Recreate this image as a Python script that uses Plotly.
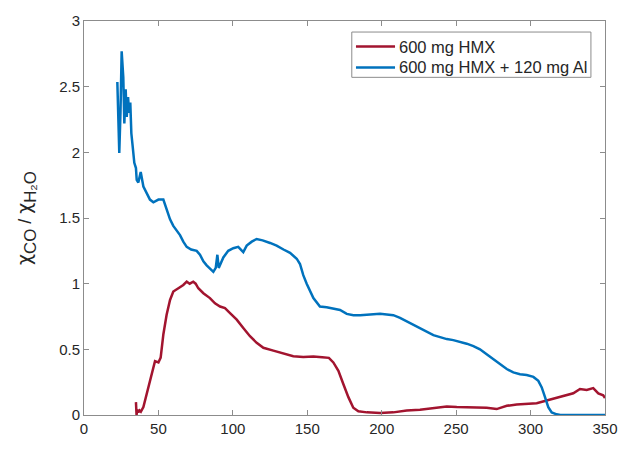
import plotly.graph_objects as go

# 600 mg HMX (red)
hmx_x = [34.9, 35.3, 35.8, 36.5, 37.3, 38.2, 39.9, 41.0, 43.2, 45.5, 47.7, 50.0, 51.5,
         53.3, 55.5, 57.8, 60.0, 63.4, 66.7, 69.0, 71.0, 73.4, 75.0, 76.8, 80.2, 84.6,
         88.0, 91.4, 94.7, 98.1, 102.6, 107.0, 111.5, 116.0, 120.5, 127.2, 133.9, 140.6,
         147.3, 154.1, 160.0, 164.5, 167.5, 170.9, 174.2, 177.6, 180.9, 184.3, 190.0,
         198.9, 207.8, 216.8, 225.7, 234.7, 243.7, 250.4, 257.1, 263.8, 270.5, 277.2,
         284.0, 290.7, 297.4, 304.1, 310.8, 317.5, 324.2, 328.7, 333.2, 337.7, 342.1,
         345.5, 348.8, 350.0]
hmx_y = [0.098, 0.0, 0.04, 0.02, 0.035, 0.025, 0.06, 0.11, 0.21, 0.31, 0.41, 0.40, 0.437,
         0.613, 0.763, 0.876, 0.94, 0.965, 0.99, 1.015, 1.0, 1.015, 1.0, 0.965, 0.927, 0.89,
         0.85, 0.826, 0.814, 0.776, 0.726, 0.663, 0.60, 0.55, 0.512, 0.49, 0.467, 0.447,
         0.442, 0.445, 0.44, 0.435, 0.40, 0.337, 0.236, 0.136, 0.055, 0.028, 0.02,
         0.015, 0.02, 0.035, 0.04, 0.055, 0.065, 0.06, 0.06, 0.055, 0.055, 0.045,
         0.07, 0.08, 0.085, 0.09, 0.11, 0.13, 0.148, 0.165, 0.198, 0.19, 0.205,
         0.165, 0.15, 0.13]

# 600 mg HMX + 120 mg Al (blue)
al_x = [22.4, 22.8, 23.7, 24.5, 25.3, 26.4, 27.1, 28.0, 28.7, 29.6, 30.3, 31.1, 31.8,
        32.7, 33.8, 34.9, 35.4, 36.5, 37.2, 38.1, 39.9, 42.1, 44.3, 46.6, 50.0, 53.3,
        55.5, 57.8, 60.0, 62.2, 64.5, 66.7, 69.0, 72.0, 75.7, 77.9, 80.2, 82.4, 84.6,
        86.9, 88.5, 89.6, 90.5, 93.6, 96.9, 100.3, 103.6, 107.0, 109.3, 112.7, 116.0,
        120.0, 125.0, 129.4, 134.0, 138.4, 142.9, 145.1, 147.3, 149.6, 154.1, 158.5,
        163.0, 167.5, 172.0, 176.5, 181.0, 185.5, 190.0, 194.5, 198.9, 203.4, 207.8,
        212.3, 216.8, 221.2, 225.7, 230.2, 234.7, 239.2, 243.7, 248.1, 252.6, 257.1,
        261.6, 266.0, 270.5, 275.0, 279.5, 284.0, 288.4, 292.9, 297.4, 301.9, 305.2,
        307.5, 309.7, 311.9, 314.2, 317.5, 320.0, 330.0, 340.0, 350.0]
al_y = [2.535, 2.27, 1.995, 2.3, 2.77, 2.57, 2.22, 2.48, 2.27, 2.42, 2.30, 2.38, 2.145,
        2.045, 1.92, 1.88, 1.79, 1.77, 1.82, 1.85, 1.74, 1.69, 1.64, 1.62, 1.64, 1.64,
        1.57, 1.49, 1.44, 1.41, 1.37, 1.32, 1.28, 1.26, 1.25, 1.22, 1.17, 1.14, 1.115,
        1.09, 1.12, 1.22, 1.12, 1.20, 1.25, 1.27, 1.28, 1.24, 1.29, 1.32, 1.34,
        1.33, 1.31, 1.29, 1.26, 1.235, 1.19, 1.15, 1.065, 1.00, 0.89, 0.826,
        0.82, 0.81, 0.80, 0.77, 0.76, 0.76, 0.765, 0.77, 0.77, 0.765, 0.76,
        0.74, 0.714, 0.69, 0.66, 0.633, 0.608, 0.593, 0.578, 0.57, 0.558, 0.543,
        0.525, 0.50, 0.462, 0.424, 0.387, 0.35, 0.324, 0.31, 0.305, 0.29, 0.26,
        0.21, 0.136, 0.06, 0.02, 0.005, 0.0, 0.0, 0.0, 0.0]

x_ticks = [0, 50, 100, 150, 200, 250, 300, 350]
y_ticks = [0, 0.5, 1, 1.5, 2, 2.5, 3]
y_tick_labels = ["0", "0.5", "1", "1.5", "2", "2.5", "3"]

series_names = ["600 mg HMX", "600 mg HMX + 120 mg Al"]
series_colors = ["#A2142F", "#0072BD"]

fig = go.Figure()
fig.add_trace(go.Scatter(x=hmx_x, y=hmx_y, mode="lines", name=series_names[0],
                         line=dict(color=series_colors[0], width=2.5), showlegend=False))
fig.add_trace(go.Scatter(x=al_x, y=al_y, mode="lines", name=series_names[1],
                         line=dict(color=series_colors[1], width=2.5), showlegend=False))

axis_common = dict(showline=True, linecolor="#8c8c8c", linewidth=1, mirror="ticks",
                   ticks="inside", ticklen=5, tickcolor="#8c8c8c", showgrid=False,
                   zeroline=False, tickfont=dict(family="Liberation Sans, Arial", size=15,
                                                 color="#262626"))

chi = '<span style="font-family:DejaVu Sans;font-size:19px">χ</span>'
slash = '<span style="font-size:18px"> / </span>'
ylabel = chi + "<sub>CO</sub>" + slash + chi + "<sub>H₂O</sub>"

# legend box drawn in paper coordinates (plot area spans 0..1)
leg_x0, leg_x1, leg_y0, leg_y1 = 0.514, 0.973, 0.857, 0.972
row_y = [0.935, 0.882]
shapes = [dict(type="rect", xref="paper", yref="paper", x0=leg_x0, x1=leg_x1,
               y0=leg_y0, y1=leg_y1, line=dict(color="#8c8c8c", width=1),
               fillcolor="white", layer="above")]
annotations = []
for name, color, ry in zip(series_names, series_colors, row_y):
    shapes.append(dict(type="line", xref="paper", yref="paper", x0=0.522, x1=0.597,
                       y0=ry, y1=ry, line=dict(color=color, width=2.5), layer="above"))
    annotations.append(dict(text=name, xref="paper", yref="paper", x=0.601, y=ry,
                            xanchor="left", yanchor="middle", showarrow=False,
                            font=dict(size=16.5, color="#262626",
                                      family="Liberation Sans, Arial")))

fig.update_layout(
    width=630, height=449,
    margin=dict(l=84, r=25, t=20, b=31),
    plot_bgcolor="white", paper_bgcolor="white",
    font=dict(family="Liberation Sans, Arial", color="#262626"),
    xaxis=dict(range=[0, 350], tickvals=x_ticks, **axis_common),
    yaxis=dict(range=[0, 3], tickvals=y_ticks, ticktext=y_tick_labels,
               title=dict(text=ylabel, font=dict(size=24, color="#262626"), standoff=20),
               **axis_common),
    shapes=shapes,
    annotations=annotations,
    showlegend=False,
)

fig.write_html("out.html")
